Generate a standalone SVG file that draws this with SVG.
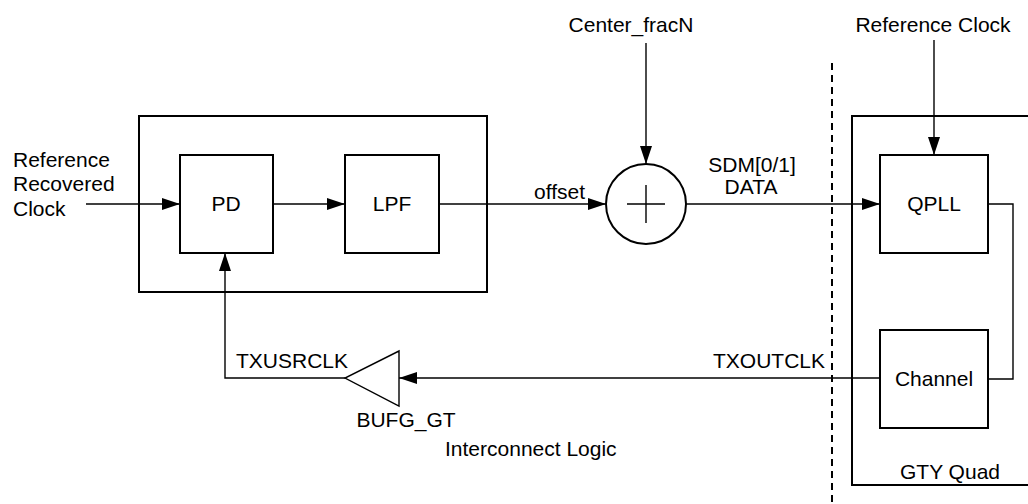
<svg xmlns="http://www.w3.org/2000/svg" width="1028" height="504" viewBox="0 0 1028 504">
<style>
.box{fill:none;stroke:#000;stroke-width:2}
.ln{fill:none;stroke:#000;stroke-width:1.4}
.t{font-family:"Liberation Sans",Arial,sans-serif;font-size:21px;fill:#000}
.m{text-anchor:middle}
.e{text-anchor:end}
</style>
<defs>
<marker id="arr" markerWidth="18" markerHeight="12" refX="18" refY="6" orient="auto" markerUnits="userSpaceOnUse"><path d="M0,0 L18,6 L0,12 z" fill="#000"/></marker>
</defs>
<rect width="1028" height="504" fill="#fff"/>
<g id="connectors">
<path class="ln" d="M86,204 H180" marker-end="url(#arr)"/>
<path class="ln" d="M273,204 H345" marker-end="url(#arr)"/>
<path class="ln" d="M439,204 H606" marker-end="url(#arr)"/>
<path class="ln" d="M646,43 V164" marker-end="url(#arr)"/>
<path class="ln" d="M686,204 H880" marker-end="url(#arr)"/>
<path class="ln" d="M934,40 V155" marker-end="url(#arr)"/>
<path class="ln" d="M988,204 H1013 V379 H988"/>
<path class="ln" d="M880,378 H399" marker-end="url(#arr)"/>
<path class="ln" d="M345,378 H225 V253" marker-end="url(#arr)"/>
<path d="M832,63 V504" fill="none" stroke="#000" stroke-width="2" stroke-dasharray="7,5"/>
</g>
<g id="fpga_logic"><rect class="box" x="139" y="116" width="348" height="176"/></g>
<g id="gty_quad"><rect class="box" x="852" y="116" width="190" height="369"/><text class="t m" x="950" y="479">GTY Quad</text></g>
<g id="pd"><rect class="box" x="180" y="155" width="93" height="98"/><text class="t m" x="226" y="211">PD</text></g>
<g id="lpf"><rect class="box" x="345" y="155" width="94" height="98"/><text class="t m" x="392" y="211">LPF</text></g>
<g id="sum"><circle class="box" cx="646" cy="204" r="40" stroke-width="1.6"/><path class="ln" d="M627,204 H665 M646,185 V223" stroke-width="1.6"/></g>
<g id="qpll"><rect class="box" x="880" y="155" width="108" height="98"/><text class="t m" x="934" y="211">QPLL</text></g>
<g id="channel"><rect class="box" x="880" y="330" width="108" height="98"/><text class="t m" x="934" y="386">Channel</text></g>
<g id="bufg_gt"><path class="ln" d="M399,351 L399,406 L345,378 Z" stroke-width="1.6"/><text class="t m" x="406" y="427">BUFG_GT</text></g>
<g id="labels">
<text class="t" x="13" y="167">Reference</text>
<text class="t" x="13" y="191">Recovered</text>
<text class="t" x="13" y="216">Clock</text>
<text class="t m" x="631" y="32">Center_fracN</text>
<text class="t m" x="933" y="32">Reference Clock</text>
<text class="t" x="534" y="199">offset</text>
<text class="t m" x="752" y="172">SDM[0/1]</text>
<text class="t m" x="751" y="194">DATA</text>
<text class="t e" x="825" y="368">TXOUTCLK</text>
<text class="t" x="236" y="368">TXUSRCLK</text>
<text class="t" x="445" y="456">Interconnect Logic</text>
</g>
</svg>
